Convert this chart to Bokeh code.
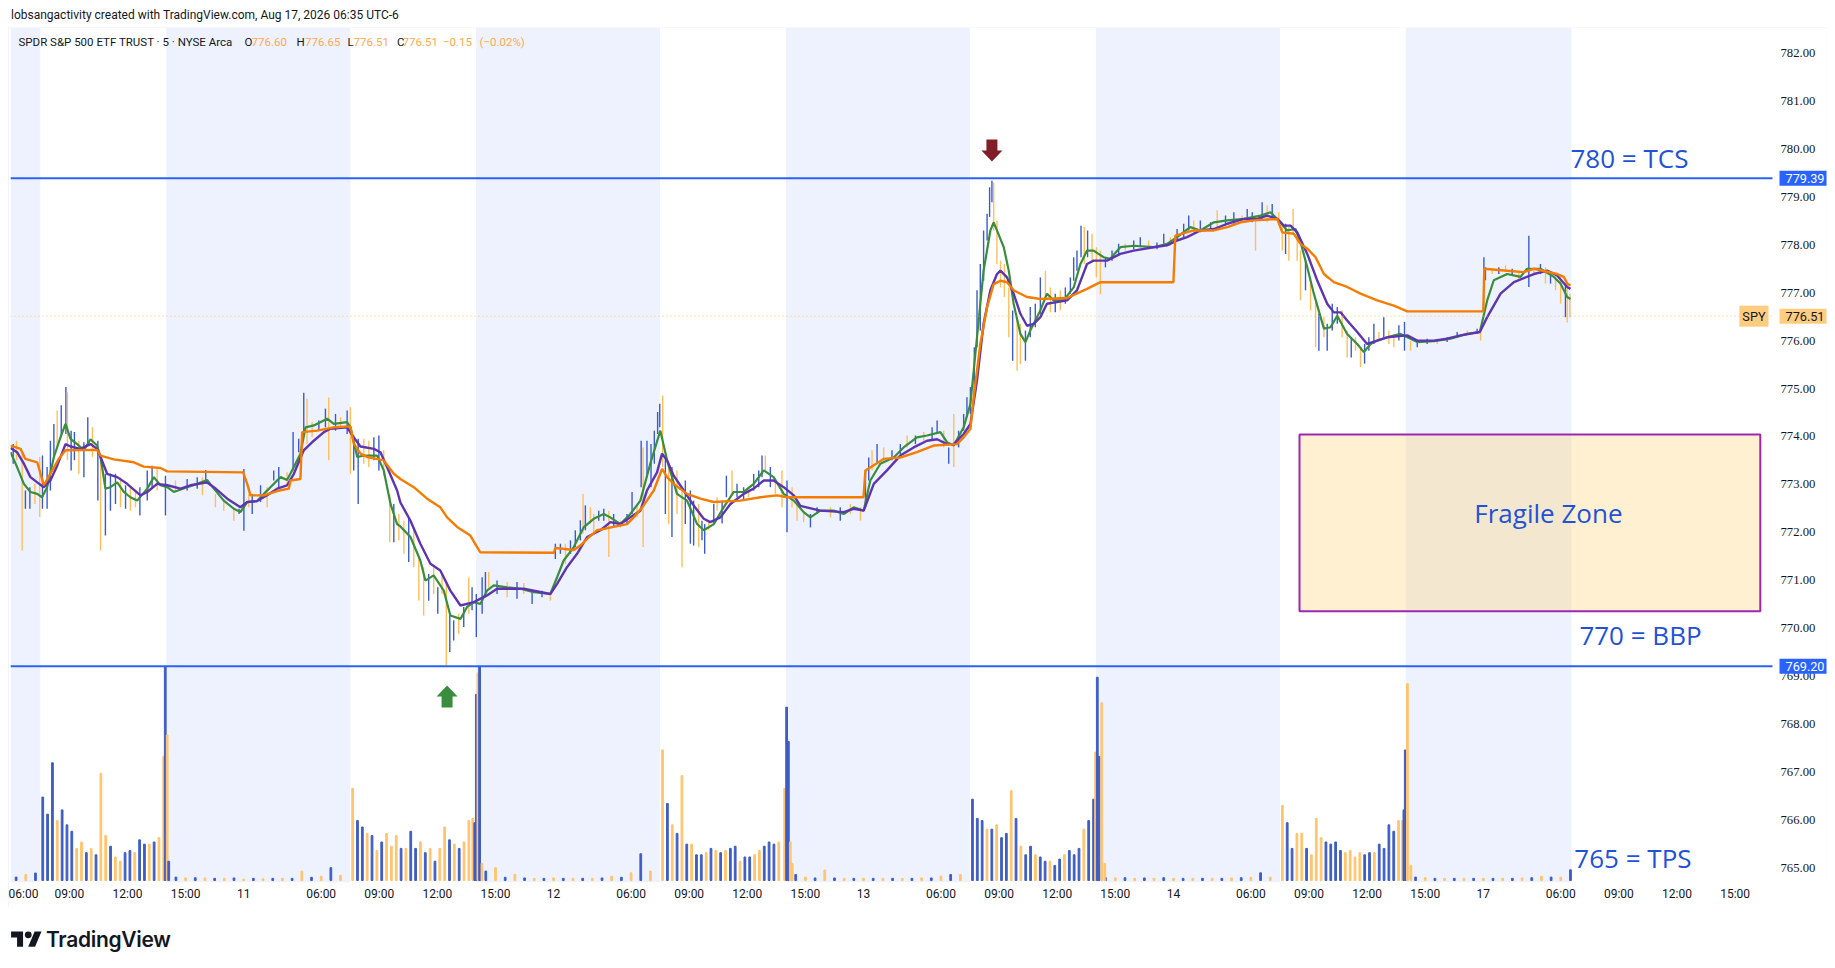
from bokeh.plotting import figure
from bokeh.models import Range1d, FixedTicker, Label, Div
from bokeh.layouts import column
from bokeh.embed import file_html
from bokeh.resources import INLINE

# ---------------- data ----------------
# time unit "t": session hours since Mon Aug 10 02:00 (UTC-6); each trading day spans 16 session hours (02:00-18:00)
HEADER = "lobsangactivity created with TradingView.com, Aug 17, 2026 06:35 UTC-6"
SYMBOL = "SPDR S&P 500 ETF TRUST · 5 · NYSE Arca"
TICKER = "SPY"
OHLC_KEYS = ["O", "H", "L", "C"]
OHLC_VALS = [776.60, 776.65, 776.51, 776.51]
CHANGE = -0.15
CHANGE_PCT = -0.02
LAST_PRICE = 776.51

DAY_LABELS = ["10", "11", "12", "13", "14", "17"]
HOUR_TICKS = [6, 9, 12, 15]
PRICE_TICKS = list(range(765, 783))
SESSION_START_H = 2
SESSION_HOURS = 16
RTH_OPEN_H, RTH_CLOSE_H = 7.5, 14.0
LAST_BAR_T = 84.55

LEVELS = [779.39, 769.20]
NOTES = ["780 = TCS", "770 = BBP", "765 = TPS"]
ZONE_NAME = "Fragile Zone"
ZONE_T = [70.51, 94.30]
ZONE_P = [770.35, 774.04]
SIGNAL_T = [54.63, 26.50]
SIGNAL_P = [779.74, 768.80]
SIGNAL_DIR = [-1, 1]

# orange session VWAP  [t, price]
VWAP = [[3.96, 773.81], [4.48, 773.74], [4.73, 773.53], [5.34, 773.46], [5.51, 773.22], [5.68, 772.98], [6.02, 773.22], [6.45, 773.53], [6.80, 773.71], [8.43, 773.72], [8.61, 773.60], [9.29, 773.52], [10.33, 773.46], [10.84, 773.37], [11.70, 773.34], [12.05, 773.27], [15.97, 773.25], [16.18, 773.01], [16.35, 772.77], [17.04, 772.77], [17.73, 772.86], [18.33, 772.91], [18.42, 773.08], [18.93, 773.11], [19.02, 774.09], [19.79, 774.12], [20.65, 774.19], [21.51, 774.21], [21.68, 773.85], [22.03, 773.64], [22.37, 773.57], [23.23, 773.50], [23.75, 773.22], [24.09, 773.11], [24.78, 772.94], [25.47, 772.70], [26.15, 772.52], [26.50, 772.31], [27.02, 772.11], [27.70, 771.93], [28.05, 771.69], [28.22, 771.58], [32.01, 771.57], [32.09, 771.67], [33.04, 771.63], [33.38, 771.72], [33.73, 771.86], [34.24, 772.04], [35.10, 772.11], [35.79, 772.17], [36.14, 772.31], [36.65, 772.56], [37.17, 772.87], [37.60, 773.32], [37.86, 773.15], [38.20, 773.01], [38.89, 772.80], [39.58, 772.70], [40.27, 772.63], [41.64, 772.66], [42.68, 772.73], [43.54, 772.77], [44.05, 772.73], [48.00, 772.73], [48.10, 773.29], [49.04, 773.53], [49.90, 773.56], [50.76, 773.67], [51.62, 773.81], [52.83, 773.84], [53.17, 773.98], [53.52, 774.16], [53.69, 774.82], [54.03, 775.93], [54.38, 776.70], [54.72, 777.18], [55.07, 777.25], [55.41, 777.22], [55.75, 777.05], [56.44, 776.91], [57.13, 776.87], [58.51, 776.89], [59.54, 777.08], [60.23, 777.22], [64.00, 777.22], [64.10, 778.19], [65.05, 778.30], [66.09, 778.30], [66.78, 778.37], [67.47, 778.47], [68.15, 778.51], [69.36, 778.54], [69.62, 778.26], [70.22, 778.23], [70.56, 778.02], [70.91, 777.92], [71.34, 777.74], [71.77, 777.39], [72.28, 777.22], [72.97, 777.12], [73.66, 776.98], [74.52, 776.84], [75.38, 776.73], [76.07, 776.61], [80.00, 776.61], [80.05, 777.50], [81.23, 777.46], [82.09, 777.43], [82.61, 777.50], [83.81, 777.39], [84.16, 777.33], [84.33, 777.19], [84.50, 777.15]]

# purple slow average
SLOW = [[3.96, 773.76], [4.30, 773.67], [4.65, 773.43], [4.99, 773.15], [5.34, 773.04], [5.68, 772.94], [6.02, 773.08], [6.37, 773.39], [6.80, 773.84], [7.06, 773.79], [7.57, 773.74], [8.09, 773.84], [8.43, 773.74], [8.61, 773.57], [8.95, 773.22], [9.47, 773.15], [9.98, 773.01], [10.67, 772.77], [11.02, 772.84], [11.53, 773.01], [12.05, 772.98], [12.74, 772.91], [13.25, 772.98], [14.11, 773.04], [14.46, 772.94], [15.15, 772.70], [15.83, 772.52], [16.18, 772.63], [16.69, 772.65], [17.21, 772.77], [17.73, 772.91], [18.24, 772.98], [18.59, 773.22], [19.10, 773.71], [19.62, 773.91], [20.14, 774.09], [20.48, 774.16], [21.34, 774.19], [21.68, 773.98], [22.03, 773.79], [22.72, 773.74], [23.06, 773.67], [23.40, 773.36], [23.92, 772.87], [24.09, 772.62], [24.61, 772.24], [25.12, 771.76], [25.64, 771.34], [26.15, 771.20], [26.67, 770.78], [27.19, 770.47], [27.88, 770.54], [28.56, 770.68], [29.08, 770.82], [30.46, 770.82], [31.83, 770.71], [32.18, 770.92], [32.69, 771.27], [33.21, 771.55], [33.73, 771.90], [34.42, 772.04], [34.93, 772.21], [35.45, 772.17], [35.96, 772.31], [36.48, 772.45], [36.82, 772.87], [37.34, 773.25], [37.60, 773.64], [37.86, 773.50], [38.20, 773.18], [38.72, 772.87], [39.23, 772.56], [39.75, 772.28], [40.09, 772.21], [40.61, 772.31], [41.13, 772.59], [41.81, 772.80], [42.33, 772.91], [42.85, 773.08], [43.36, 773.08], [43.88, 772.94], [44.40, 772.77], [44.74, 772.55], [45.77, 772.45], [46.98, 772.42], [47.49, 772.49], [48.01, 772.45], [48.53, 773.01], [49.21, 773.29], [49.90, 773.60], [50.59, 773.77], [51.28, 773.91], [51.80, 773.94], [52.31, 773.84], [52.66, 773.84], [53.17, 774.05], [53.52, 774.26], [53.86, 775.17], [54.20, 776.35], [54.55, 777.05], [54.89, 777.39], [55.07, 777.46], [55.41, 777.32], [55.75, 776.98], [56.10, 776.56], [56.44, 776.31], [56.79, 776.35], [57.13, 776.49], [57.47, 776.77], [58.51, 776.84], [59.02, 777.05], [59.54, 777.60], [59.88, 777.67], [60.57, 777.67], [61.26, 777.81], [61.95, 777.88], [62.98, 777.95], [63.67, 777.99], [64.19, 778.09], [64.70, 778.16], [65.39, 778.30], [66.09, 778.33], [66.78, 778.44], [67.64, 778.54], [68.33, 778.54], [68.84, 778.61], [69.36, 778.54], [69.70, 778.40], [70.05, 778.40], [70.39, 778.26], [70.91, 777.81], [71.42, 777.26], [71.94, 776.77], [72.28, 776.59], [72.63, 776.59], [72.97, 776.42], [73.49, 776.18], [74.00, 775.93], [74.52, 776.00], [75.04, 776.07], [76.07, 776.11], [76.59, 776.00], [77.45, 776.00], [78.13, 776.04], [78.82, 776.11], [79.82, 776.18], [80.20, 776.49], [80.89, 776.98], [81.58, 777.22], [82.61, 777.39], [83.30, 777.46], [83.81, 777.36], [84.33, 777.12], [84.50, 777.08]]

# green fast average
FAST = [[3.96, 773.67], [4.30, 773.36], [4.65, 773.01], [4.99, 772.84], [5.34, 772.80], [5.59, 772.73], [5.85, 772.94], [6.20, 773.57], [6.54, 773.98], [6.80, 774.26], [7.06, 773.95], [7.40, 773.84], [7.75, 773.71], [8.09, 773.94], [8.43, 773.81], [8.61, 773.57], [8.86, 772.91], [9.12, 772.94], [9.47, 773.04], [9.81, 772.84], [10.15, 772.73], [10.50, 772.66], [11.02, 772.91], [11.36, 773.15], [11.70, 772.98], [12.05, 772.94], [12.39, 772.84], [13.08, 772.94], [13.60, 773.01], [14.11, 773.09], [14.46, 772.91], [14.97, 772.66], [15.49, 772.49], [15.83, 772.42], [16.18, 772.63], [16.69, 772.65], [17.04, 772.80], [17.38, 772.94], [17.90, 773.15], [18.24, 773.09], [18.59, 773.36], [18.93, 773.64], [19.19, 774.19], [19.62, 774.23], [20.31, 774.37], [20.65, 774.26], [21.34, 774.30], [21.51, 774.19], [21.86, 773.57], [22.20, 773.60], [22.89, 773.60], [23.23, 773.29], [23.58, 772.59], [23.92, 772.17], [24.09, 772.12], [24.61, 771.90], [25.12, 771.41], [25.38, 770.99], [25.81, 771.10], [26.33, 770.78], [26.67, 770.26], [27.19, 770.19], [27.53, 770.44], [27.88, 770.54], [28.22, 770.50], [28.56, 770.78], [28.91, 770.89], [29.60, 770.85], [30.29, 770.82], [30.97, 770.75], [31.83, 770.71], [32.18, 771.06], [32.52, 771.41], [33.04, 771.69], [33.55, 772.10], [34.07, 772.28], [34.59, 772.38], [34.93, 772.31], [35.45, 772.17], [35.96, 772.38], [36.48, 772.66], [36.99, 773.43], [37.51, 774.12], [37.86, 773.50], [38.37, 772.80], [38.89, 772.66], [39.41, 772.17], [39.75, 772.04], [40.27, 772.17], [40.78, 772.52], [41.30, 772.84], [41.81, 772.84], [42.33, 773.01], [42.85, 773.29], [43.36, 773.15], [43.88, 772.80], [44.40, 772.66], [44.91, 772.42], [45.26, 772.31], [45.77, 772.45], [46.46, 772.45], [46.98, 772.38], [47.49, 772.52], [48.01, 772.45], [48.35, 773.08], [48.87, 773.43], [49.56, 773.56], [50.07, 773.77], [50.76, 773.98], [51.28, 774.02], [51.97, 774.09], [52.31, 773.88], [52.66, 773.81], [53.17, 774.19], [53.52, 774.68], [53.86, 776.07], [54.20, 777.46], [54.55, 778.30], [54.72, 778.47], [54.89, 778.30], [55.24, 777.95], [55.50, 777.46], [55.75, 776.77], [56.10, 776.14], [56.36, 775.97], [56.61, 776.21], [57.13, 776.63], [57.47, 776.98], [57.82, 776.84], [58.33, 776.84], [58.85, 777.11], [59.20, 777.60], [59.54, 777.88], [59.88, 777.88], [60.40, 777.74], [60.74, 777.71], [61.26, 777.95], [61.95, 777.98], [62.98, 777.95], [63.67, 778.02], [64.19, 778.16], [64.87, 778.37], [65.39, 778.30], [66.09, 778.47], [66.78, 778.51], [67.64, 778.54], [68.50, 778.61], [69.01, 778.68], [69.53, 778.47], [69.87, 778.30], [70.30, 778.33], [70.56, 778.06], [70.91, 777.53], [71.25, 776.98], [71.77, 776.25], [72.11, 776.28], [72.46, 776.52], [72.97, 776.14], [73.49, 775.93], [73.83, 775.76], [74.18, 775.93], [74.52, 776.00], [75.04, 776.07], [75.73, 776.14], [76.59, 775.97], [77.45, 775.99], [78.31, 776.04], [79.17, 776.14], [79.82, 776.18], [80.20, 776.84], [80.54, 777.26], [81.23, 777.39], [81.92, 777.33], [82.26, 777.50], [82.95, 777.50], [83.64, 777.33], [83.99, 777.19], [84.33, 776.91], [84.50, 776.87]]

# price bars [t, low, high, up(1)/down(0)]
BARS = [[4.10, 773.43, 773.84, 1], [4.27, 773.50, 773.91, 0], [4.56, 771.62, 773.64, 0], [4.73, 772.49, 772.87, 1], [4.96, 772.49, 772.94, 1], [5.22, 772.59, 773.01, 0], [5.47, 772.32, 773.57, 0], [5.61, 772.49, 773.60, 1], [5.85, 772.49, 773.36, 1], [6.02, 772.87, 773.91, 1], [6.20, 773.57, 774.26, 1], [6.37, 773.78, 774.54, 0], [6.58, 773.98, 774.65, 1], [6.82, 774.05, 775.03, 1], [6.90, 773.50, 774.92, 0], [7.09, 773.29, 774.12, 1], [7.26, 773.50, 774.09, 1], [7.49, 773.22, 773.91, 0], [7.75, 773.15, 773.88, 1], [7.95, 773.84, 774.40, 1], [8.19, 773.57, 774.19, 0], [8.47, 772.66, 773.91, 1], [8.61, 771.62, 773.64, 0], [8.86, 771.93, 773.22, 1], [9.12, 772.45, 773.22, 1], [9.38, 772.59, 773.22, 1], [9.64, 772.52, 773.15, 0], [9.90, 772.49, 772.98, 1], [10.15, 772.45, 772.94, 0], [10.41, 772.52, 772.87, 0], [10.64, 772.35, 772.94, 1], [11.02, 772.66, 773.29, 1], [11.27, 772.94, 773.39, 1], [11.53, 772.87, 773.32, 0], [11.96, 772.35, 773.18, 1],
        [12.48, 772.84, 773.08, 0], [13.08, 772.87, 773.11, 1], [13.60, 772.91, 773.15, 1], [13.87, 772.77, 773.15, 0], [14.04, 773.01, 773.30, 1], [14.54, 772.52, 772.80, 0], [14.97, 772.45, 772.66, 0], [15.49, 772.24, 772.52, 0], [15.76, 772.38, 772.49, 1], [16.01, 772.03, 773.32, 1], [16.26, 772.52, 772.80, 0], [16.44, 772.38, 772.80, 1], [16.87, 772.63, 772.98, 1], [17.21, 772.52, 772.94, 0], [17.55, 773.08, 773.29, 1], [17.81, 772.94, 773.36, 1], [18.24, 773.01, 773.25, 0], [18.55, 773.29, 774.09, 1], [18.84, 773.67, 773.95, 1], [19.10, 773.98, 774.91, 1], [19.27, 773.84, 774.79, 0], [19.53, 773.98, 774.30, 0], [19.88, 774.12, 774.33, 1], [20.22, 774.19, 774.58, 1], [20.39, 773.50, 774.81, 0], [20.74, 774.12, 774.47, 1], [21.00, 774.19, 774.40, 0], [21.34, 774.05, 774.54, 1],
        [21.51, 773.22, 774.61, 0], [21.68, 773.29, 774.02, 1], [21.91, 772.59, 773.95, 1], [22.20, 773.43, 773.95, 0], [22.46, 773.36, 773.91, 0], [22.72, 773.50, 773.98, 1], [22.98, 773.29, 774.02, 1], [23.23, 773.18, 773.71, 0], [23.54, 771.79, 772.80, 0], [23.75, 771.79, 772.59, 1], [24.01, 771.83, 772.38, 0], [24.27, 771.55, 772.24, 0], [24.52, 771.38, 772.31, 1], [24.78, 771.27, 772.10, 0], [25.04, 770.57, 771.48, 0], [25.29, 770.26, 771.27, 0], [25.55, 770.57, 771.13, 1], [25.81, 770.71, 771.27, 0], [26.02, 770.30, 770.85, 1], [26.24, 770.71, 771.13, 0], [26.46, 769.22, 770.99, 0], [26.64, 769.50, 770.30, 1], [26.84, 769.74, 770.16, 1], [27.10, 769.88, 770.30, 0], [27.36, 770.02, 770.44, 1], [27.62, 770.30, 771.06, 0], [27.79, 770.37, 770.85, 1], [28.01, 769.81, 770.71, 1],
        [28.31, 770.30, 771.06, 1], [28.48, 770.64, 771.17, 1], [28.65, 770.85, 771.17, 0], [29.08, 770.71, 770.99, 1], [29.60, 770.64, 770.96, 0], [30.11, 770.61, 770.96, 1], [30.46, 770.71, 770.94, 0], [30.89, 770.50, 770.75, 1], [31.40, 770.64, 770.78, 1], [31.83, 770.57, 770.75, 0], [32.09, 771.44, 771.76, 1], [32.35, 771.55, 771.76, 1], [32.61, 771.34, 771.76, 0], [32.87, 771.55, 771.83, 1], [33.12, 771.69, 772.04, 1], [33.38, 771.83, 772.25, 1], [33.52, 771.97, 772.80, 0], [33.64, 772.04, 772.56, 1], [33.90, 772.18, 772.52, 0], [34.07, 771.97, 772.38, 0], [34.33, 772.24, 772.45, 1], [34.59, 772.24, 772.49, 1], [34.85, 771.48, 772.45, 0], [35.10, 772.10, 772.38, 1], [35.45, 772.10, 772.24, 0], [35.79, 772.17, 772.38, 1], [36.05, 772.38, 772.84, 1], [36.31, 772.31, 772.59, 0], [36.52, 772.94, 773.91, 1], [36.62, 771.69, 773.77, 0], [36.82, 773.15, 773.91, 1], [37.03, 772.94, 773.84, 1], [37.20, 773.43, 774.12, 1],
        [37.37, 774.05, 774.51, 1], [37.48, 774.19, 774.68, 1], [37.63, 773.36, 774.85, 0], [37.77, 772.38, 773.57, 1], [37.94, 772.17, 773.43, 0], [38.11, 771.90, 773.36, 1], [38.37, 772.38, 773.29, 0], [38.63, 771.27, 772.87, 0], [38.80, 772.17, 773.08, 1], [39.06, 771.76, 772.87, 1], [39.23, 771.72, 772.66, 1], [39.49, 771.69, 772.59, 0], [39.66, 771.83, 772.24, 1], [39.80, 771.55, 772.17, 1], [40.01, 772.04, 772.24, 0], [40.27, 772.18, 772.59, 1], [40.44, 772.45, 772.73, 0], [40.70, 772.18, 772.66, 1], [40.92, 772.73, 773.18, 1], [41.21, 772.80, 773.29, 0], [41.47, 772.73, 773.01, 1], [41.81, 772.66, 772.94, 1], [42.07, 772.73, 772.94, 0], [42.33, 772.87, 773.22, 1], [42.59, 772.94, 773.29, 1], [42.76, 773.15, 773.60, 1], [42.93, 773.29, 773.60, 0], [43.19, 772.94, 773.36, 1], [43.45, 772.80, 773.08, 0], [43.79, 772.52, 773.29, 0], [44.05, 772.00, 773.08, 1],
        [44.31, 772.52, 772.94, 0], [44.57, 772.24, 772.59, 0], [44.91, 772.21, 772.45, 0], [45.26, 772.10, 772.38, 1], [45.60, 772.38, 772.52, 1], [46.29, 772.31, 772.52, 0], [46.80, 772.24, 772.52, 1], [47.32, 772.38, 772.59, 0], [47.84, 772.24, 772.52, 0], [48.10, 772.52, 773.29, 1], [48.27, 773.08, 773.56, 1], [48.44, 773.29, 773.71, 0], [48.70, 773.43, 773.84, 1], [49.04, 773.50, 773.77, 0], [49.47, 773.50, 773.71, 1], [49.90, 773.63, 773.84, 1], [50.25, 773.77, 774.02, 0], [50.68, 773.84, 774.02, 1], [51.11, 773.91, 774.09, 0], [51.54, 773.91, 774.19, 1], [51.80, 774.05, 774.33, 1], [52.14, 773.77, 774.12, 0], [52.40, 773.43, 773.77, 1], [52.66, 773.36, 774.47, 0], [52.91, 773.77, 774.12, 1], [53.17, 774.12, 774.47, 1],
        [53.34, 774.40, 774.82, 1], [53.52, 774.47, 775.03, 1], [53.72, 774.82, 775.86, 1], [53.86, 775.86, 777.05, 1], [54.03, 776.21, 777.60, 1], [54.20, 777.25, 778.30, 1], [54.38, 778.09, 778.65, 1], [54.51, 778.58, 779.20, 1], [54.63, 778.89, 779.34, 1], [54.72, 778.30, 779.30, 0], [54.89, 777.60, 778.51, 0], [55.07, 777.11, 777.67, 0], [55.27, 776.91, 777.60, 0], [55.50, 776.07, 777.11, 0], [55.70, 775.58, 776.63, 1], [55.93, 775.37, 776.49, 0], [56.10, 775.51, 776.35, 0], [56.36, 775.58, 776.21, 1], [56.61, 776.07, 776.70, 1], [56.87, 776.28, 776.77, 1], [57.13, 776.56, 777.32, 1], [57.39, 776.84, 777.46, 0], [57.65, 776.59, 777.11, 0], [57.90, 776.59, 776.98, 1], [58.16, 776.63, 777.05, 0], [58.42, 776.77, 777.11, 1], [58.68, 776.98, 777.32, 1], [58.85, 777.25, 777.74, 1], [59.02, 777.46, 777.88, 1], [59.23, 777.74, 778.40, 1], [59.40, 777.60, 778.37, 0], [59.57, 777.74, 778.30, 1], [59.80, 777.67, 778.23, 0], [60.02, 777.32, 777.95, 0], [60.23, 776.97, 777.88, 0],
        [60.49, 777.53, 777.74, 1], [60.83, 777.67, 777.88, 1], [61.17, 777.81, 778.02, 1], [61.52, 777.88, 778.02, 0], [61.95, 777.91, 778.09, 1], [62.29, 777.95, 778.16, 1], [62.72, 777.95, 778.09, 0], [63.15, 777.91, 778.05, 1], [63.50, 778.02, 778.23, 1], [63.84, 777.98, 778.16, 0], [64.19, 778.09, 778.33, 1], [64.53, 778.16, 778.44, 1], [64.79, 778.30, 778.61, 1], [65.05, 778.23, 778.51, 0], [65.39, 778.26, 778.51, 1], [65.92, 778.30, 778.47, 1], [66.26, 778.33, 778.72, 0], [66.69, 778.40, 778.61, 1], [67.12, 778.44, 778.68, 1], [67.55, 778.47, 778.61, 0], [67.81, 778.51, 778.75, 1], [68.07, 778.47, 778.68, 1], [68.24, 777.88, 778.54, 0], [68.58, 778.51, 778.89, 1], [68.84, 778.47, 778.82, 0], [69.10, 778.58, 778.85, 1], [69.44, 778.47, 778.68, 0],
        [69.62, 777.88, 778.44, 0], [69.79, 777.81, 778.44, 1], [69.96, 777.67, 778.37, 0], [70.18, 778.23, 778.75, 0], [70.39, 777.67, 778.23, 0], [70.56, 776.84, 777.88, 0], [70.82, 777.05, 777.67, 1], [71.08, 776.63, 777.32, 0], [71.34, 775.86, 776.84, 0], [71.51, 775.79, 776.56, 1], [71.77, 776.07, 776.49, 0], [71.94, 775.79, 776.35, 1], [72.20, 776.21, 776.77, 1], [72.46, 776.35, 776.70, 1], [72.71, 776.07, 776.63, 0], [72.97, 775.65, 776.21, 0], [73.18, 775.65, 776.07, 1], [73.40, 775.79, 776.07, 0], [73.66, 775.45, 775.86, 0], [73.87, 775.52, 775.93, 1], [74.09, 775.79, 776.07, 1], [74.35, 775.93, 776.35, 1], [74.61, 776.00, 776.18, 0], [74.86, 776.07, 776.49, 1], [75.12, 775.93, 776.21, 0], [75.38, 775.86, 776.14, 0], [75.64, 776.00, 776.32, 1], [75.93, 775.79, 776.39, 1],
        [76.24, 775.79, 775.99, 0], [76.59, 775.86, 775.99, 1], [77.10, 775.93, 776.04, 1], [77.62, 775.93, 776.04, 0], [78.13, 775.97, 776.07, 1], [78.65, 776.07, 776.18, 1], [79.17, 776.11, 776.21, 0], [79.68, 776.14, 776.25, 1], [79.86, 776.00, 776.28, 0], [80.03, 777.19, 777.74, 1], [80.11, 777.26, 777.53, 1], [80.46, 777.39, 777.50, 0], [80.80, 777.39, 777.53, 1], [81.15, 777.43, 777.57, 0], [81.49, 777.36, 777.50, 1], [81.83, 777.29, 777.43, 0], [82.35, 777.12, 778.19, 1], [82.61, 777.36, 777.50, 0], [82.95, 777.39, 777.60, 1], [83.21, 777.19, 777.53, 0], [83.47, 777.19, 777.43, 1], [83.73, 777.05, 777.39, 0], [83.99, 776.77, 777.32, 0], [84.24, 776.49, 777.19, 1], [84.33, 776.38, 777.22, 0], [84.47, 776.49, 776.98, 0]]

# volume, relative units (tallest bar = 100); regular-hours 15-minute bins from 07:30
RTH_VOL = [
    [39, 31, 55, 28, 33, 26, 23, 15, 18, 13, 15, 12, 50, 21, 16, 11, 9, 13, 14, 13, 19, 17, 17, 18, 20],
    [43, 28, 25, 22, 21, 14, 18, 22, 16, 21, 15, 15, 23, 15, 18, 13, 15, 9, 15, 25, 19, 17, 15, 18, 28],
    [61, 36, 26, 22, 49, 17, 17, 12, 12, 13, 15, 14, 13, 14, 15, 16, 9, 11, 11, 12, 14, 16, 18, 17, 18],
    [38, 29, 28, 24, 24, 26, 20, 22, 42, 29, 16, 12, 16, 12, 11, 9, 9, 7, 10, 12, 14, 12, 15, 24, 28],
    [35, 27, 15, 22, 22, 15, 12, 29, 20, 18, 17, 18, 14, 13, 14, 11, 13, 12, 13, 13, 17, 15, 26, 23, 28],
]
RTH_DIR = ["bbbobbboobobooboobbobbobo", "obbobobooobobbobobooboboo", "obobobobbobobobbobboobbbo",
           "bbbobobbobobbobbobbobbbob", "obboobooobbbboooobbobbbbo"]
# closing-auction bars [t, volume, up]
VOL_SPIKES = [[11.87, 58, 0], [11.95, 100, 1], [12.05, 68, 0], [12.13, 9, 1],
              [27.83, 29, 0], [27.93, 27, 1], [28.01, 87, 1], [28.09, 97, 0], [28.18, 100, 1], [28.30, 8, 0],
              [43.93, 43, 0], [44.03, 81, 1], [44.12, 65, 1], [44.22, 18, 0], [44.32, 8, 0],
              [59.88, 38, 1], [59.98, 60, 0], [60.07, 95, 1], [60.16, 58, 1], [60.30, 83, 0], [60.46, 8, 0],
              [75.83, 28, 0], [75.90, 33, 1], [75.97, 61, 1], [76.08, 92, 0], [76.26, 7, 0]]
# extended-hours volume, 30-minute bins
EXT_VOL_START = [4.25, 12.5, 28.5, 44.5, 60.5, 76.5]
EXT_VOL = [
    [1.6, 2.8, 3.5],
    [1.6, 1.2, 1.3, 1.2, 1.0, 1.0, 1.2, 0.6, 1.0, 0.8, 1.0, 1.0, 1.0, 4.4, 1.5, 2.0, 6.0, 2.4],
    [4.4, 6.0, 1.5, 2.8, 1.2, 1.0, 1.0, 1.2, 1.0, 1.0, 1.0, 1.0, 1.2, 2.0, 1.5, 3.6, 12.5, 4.4],
    [2.8, 1.6, 1.2, 4.9, 1.2, 1.0, 1.0, 1.0, 1.0, 1.0, 1.0, 1.0, 1.0, 1.2, 1.2, 2.0, 2.8, 2.8],
    [1.3, 1.2, 1.3, 1.0, 1.2, 1.0, 1.3, 1.0, 1.0, 1.0, 1.0, 1.0, 1.0, 1.2, 1.3, 1.5, 3.6, 1.5],
    [1.6, 1.3, 1.0, 1.0, 1.0, 1.0, 1.0, 1.0, 1.0, 1.0, 1.0, 1.2, 1.3, 2.0, 1.6, 1.6, 5.0],
]

# ---------------- styling ----------------
DARK = "#131722"
BLUE = "#2962FF"
UP_C, DN_C = "#3A5BD0", "#FFBE5C"
VUP_C, VDN_C = "#3F5DC4", "#FFC46E"
NOTE_C = "#1F52D6"
FONT = "Roboto"

X0, PANE_END = 3.96, 94.93          # visible time span of the price pane
PANE_W = 1762                        # pane width in px
SCALE_W = 54                         # price-scale width in px
FW, FH = PANE_W + SCALE_W, 855
X1 = X0 + (PANE_END - X0) * FW / PANE_W
Y0, Y1 = 764.687, 782.537

p = figure(frame_width=FW, frame_height=FH, x_range=Range1d(X0, X1), y_range=Range1d(Y0, Y1),
           output_backend="svg", toolbar_location=None, y_axis_location=None,
           min_border_left=2, min_border_right=1, min_border_top=0, min_border_bottom=25,
           background_fill_color="white", border_fill_color="white", outline_line_color=None,
           styles={"outline": "2px solid #EEF0F5", "outline-offset": "-2px"})
p.xgrid.grid_line_color = None
p.ygrid.grid_line_color = None
p.extra_y_ranges = {"vol": Range1d(-0.93, 398.6)}

# extended-hours shading
ext = []
prev = X0
for d in range(len(DAY_LABELS) - 1):
    o = d * SESSION_HOURS + RTH_OPEN_H - SESSION_START_H
    c = d * SESSION_HOURS + RTH_CLOSE_H - SESSION_START_H
    ext.append((prev, o))
    prev = c
ext.append((prev, LAST_BAR_T))
p.quad(left=[a for a, b in ext], right=[b for a, b in ext], bottom=Y0, top=Y1,
       fill_color="#EEF2FE", line_color=None)

# fragile zone
p.quad(left=[ZONE_T[0]], right=[ZONE_T[1]], bottom=[ZONE_P[0]], top=[ZONE_P[1]],
       fill_color="#FFCC66", fill_alpha=0.3, line_color="#9C27B0", line_width=2)

# volume
vt, vv, vc = [], [], []
for d, vals in enumerate(RTH_VOL):
    dirs = RTH_DIR[d]
    for i, v in enumerate(vals):
        vt.append(d * SESSION_HOURS + RTH_OPEN_H - SESSION_START_H + 0.25 * i + 0.125)
        vv.append(v)
        vc.append(VUP_C if dirs[i % len(dirs)] == "b" else VDN_C)
for s, vals in zip(EXT_VOL_START, EXT_VOL):
    for i, v in enumerate(vals):
        vt.append(s + 0.5 * i)
        vv.append(v)
        vc.append(VUP_C if i % 2 == 0 else VDN_C)
for t, v, u in VOL_SPIKES:
    vt.append(t); vv.append(v); vc.append(VUP_C if u else VDN_C)
p.vbar(x=vt, top=vv, bottom=0, width=0.09, color=vc, y_range_name="vol")

# price bars
p.segment(x0=[b[0] for b in BARS], y0=[b[1] for b in BARS], x1=[b[0] for b in BARS], y1=[b[2] for b in BARS],
          line_color=[UP_C if b[3] else DN_C for b in BARS], line_width=1.4)

# averages
p.line([q[0] for q in FAST], [q[1] for q in FAST], line_color="#388E3C", line_width=2.2)
p.line([q[0] for q in SLOW], [q[1] for q in SLOW], line_color="#5E35B1", line_width=2.4)
p.line([q[0] for q in VWAP], [q[1] for q in VWAP], line_color="#F57C00", line_width=2.4)

# level lines and last-price line (pane only)
p.segment(x0=[X0] * len(LEVELS), x1=[PANE_END] * len(LEVELS), y0=LEVELS, y1=LEVELS,
          line_color=BLUE, line_width=2)
p.segment(x0=[X0], x1=[PANE_END], y0=[LAST_PRICE], y1=[LAST_PRICE], line_color="#FFB74D",
          line_width=1, line_dash="1 3", line_alpha=0.9)

# signal arrows (shape in screen pixels)
sx = (X1 - X0) / FW
sy = (Y1 - Y0) / FH
shape = [(0, 0), (-10.5, 11), (-5.5, 11), (-5.5, 22), (5.5, 22), (5.5, 11), (10.5, 11)]
for t, pr, dr in zip(SIGNAL_T, SIGNAL_P, SIGNAL_DIR):
    xs = [t + dx * sx for dx, dy in shape]
    ys = [pr - dr * dy * sy for dx, dy in shape]
    p.patch(xs, ys, color="#388E3C" if dr > 0 else "#801F27", line_width=0)

# time axis
ticks, tick_labels = [], {}
for d, lab in enumerate(DAY_LABELS):
    base = d * SESSION_HOURS
    if X0 <= base <= PANE_END:
        ticks.append(base); tick_labels[base] = lab
    for h in HOUR_TICKS:
        t = base + h - SESSION_START_H
        if X0 <= t <= PANE_END:
            ticks.append(t); tick_labels[t] = f"{h:02d}:00"
xa = p.xaxis[0]
xa.ticker = FixedTicker(ticks=ticks)
xa.major_label_overrides = tick_labels
xa.axis_line_color = None
xa.major_tick_line_color = None
xa.minor_tick_line_color = None
xa.major_label_text_font = FONT
xa.major_label_text_font_size = "12px"
xa.major_label_text_color = DARK
xa.major_label_standoff = -2

# price scale labels
p.text(x=[PANE_END] * len(PRICE_TICKS), y=PRICE_TICKS, text=[f"{v:.2f}" for v in PRICE_TICKS],
       x_offset=8, text_align="left", text_baseline="middle", text_font=FONT,
       text_font_size="12.7px", text_color=DARK)

# notes
note_pos = [(84.50, 779.81), (84.96, 769.86), (84.70, 765.19)]
for txt, (t, pr) in zip(NOTES, note_pos):
    p.add_layout(Label(x=t, y=pr, text=txt, text_font="Open Sans", text_font_size="26px",
                       text_color=NOTE_C, text_baseline="middle", text_align="left"))
p.add_layout(Label(x=83.36, y=772.40, text=ZONE_NAME, text_font="Open Sans", text_font_size="26px",
                   text_color=NOTE_C, text_baseline="middle", text_align="center"))

# price-scale tags
for lv in LEVELS:
    p.add_layout(Label(x=PANE_END, y=lv, text=f"{lv:.2f}", x_offset=7, text_align="left",
                       text_baseline="middle", text_font=FONT, text_font_size="12.7px", text_color="white",
                       background_fill_color=BLUE, padding=(6, 3)))
p.add_layout(Label(x=PANE_END, y=LAST_PRICE, text=f"{LAST_PRICE:.2f}", x_offset=7, text_align="left",
                   text_baseline="middle", text_font=FONT, text_font_size="12.7px", text_color=DARK,
                   background_fill_color="#FFCC80", padding=(6, 3)))
p.add_layout(Label(x=PANE_END, y=LAST_PRICE, text=TICKER, x_offset=-4, text_align="right",
                   text_baseline="middle", text_font=FONT, text_font_size="12.7px", text_color=DARK,
                   background_fill_color="#FFCC80", padding=(3, 3)))

# legend line
def fmt(v):
    return f"{v:.2f}".replace("-", "\u2212")
parts = [(SYMBOL, DARK, 8)]
offs = [(234, 241), (286, 294.6), (337, 343), (386.5, 392)]
for k, v, (ok, ov) in zip(OHLC_KEYS, OHLC_VALS, offs):
    parts.append((k, DARK, ok))
    parts.append((fmt(v), "#FFA94D", ov))
parts.append((fmt(CHANGE), "#FFA94D", 432.5))
parts.append(("(" + fmt(CHANGE_PCT) + "%)", "#FFA94D", 469))
for txt, col, off in parts:
    p.add_layout(Label(x=X0, y=Y1, text=txt, x_offset=off, y_offset=-14, text_font=FONT,
                       text_font_size="11.5px", text_color=col, text_baseline="middle", text_align="left"))

header = Div(text=HEADER, width=1819, height=19, margin=(0, 0, 0, 0),
             styles={"font-family": FONT, "font-size": "12px", "color": DARK, "line-height": "15px",
                     "padding-left": "3px", "white-space": "nowrap"})
logo_html = ('<div style="display:flex;align-items:center;padding:18px 0 0 3px;">'
             '<svg width="31" height="24" viewBox="0 0 36 28" xmlns="http://www.w3.org/2000/svg">'
             '<path d="M14 22H7V11H0V4h14v18z" fill="#131722"/><circle cx="20" cy="8" r="4" fill="#131722"/>'
             '<path d="M28 22h-8l7.5-18h8L28 22z" fill="#131722"/></svg>'
             '<span style="font-family:Inter;font-weight:600;font-size:21px;color:#131722;margin-left:4px;'
             'letter-spacing:-0.3px;">TradingView</span></div>')
logo = Div(text=logo_html, width=1819, height=50, margin=(0, 0, 0, 0))

layout = column(header, p, logo, spacing=0, margin=(8, 0, 0, 8))
open("out.html", "w").write(file_html(layout, INLINE))
